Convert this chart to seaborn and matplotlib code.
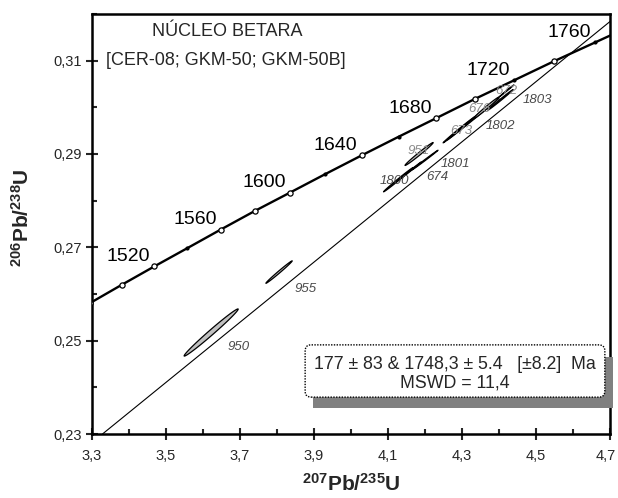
import numpy as np
import matplotlib
matplotlib.use("Agg")
import matplotlib.pyplot as plt
import matplotlib.transforms as mtrans
import seaborn as sns
from matplotlib.patches import FancyBboxPatch, Rectangle
from matplotlib.ticker import FuncFormatter, MultipleLocator

# Concordia ticks (20 Ma steps)
conc_age = [1480, 1500, 1520, 1540, 1560, 1580, 1600, 1620, 1640, 1660,
            1680, 1700, 1720, 1740, 1760, 1780]
conc_x = [3.2955, 3.3810, 3.4681, 3.5570, 3.6477, 3.7401, 3.8344, 3.9306,
          4.0287, 4.1287, 4.2307, 4.3348, 4.4409, 4.5491, 4.6595, 4.7721]
conc_y = [0.2581, 0.2620, 0.2659, 0.2698, 0.2738, 0.2778, 0.2817, 0.2857,
          0.2897, 0.2937, 0.2977, 0.3018, 0.3058, 0.3099, 0.3139, 0.3180]
labelled_ages = [1520, 1560, 1600, 1640, 1680, 1720, 1760]
filled_ages = [1540, 1620, 1660, 1720, 1760]

# Discordia: lower and upper intercepts (177 Ma and 1748.3 Ma)
disc_x = [0.1904, 4.5946]
disc_y = [0.0278, 0.3116]

# Zircon spots: 207Pb/235U, error, 206Pb/238U, error, rho
spot_name = ["950", "955", "1800", "1801", "674", "951", "673", "1802", "676", "672", "1803"]
spot_x = [3.622, 3.8055, 4.128, 4.160, 4.200, 4.184, 4.292, 4.330, 4.365, 4.404, 4.420]
spot_sx = [0.073, 0.0355, 0.040, 0.030, 0.035, 0.038, 0.043, 0.070, 0.035, 0.034, 0.020]
spot_y = [0.25175, 0.2647, 0.2845, 0.2864, 0.2887, 0.2900, 0.2952, 0.2975, 0.29985, 0.3016, 0.3035]
spot_sy = [0.00505, 0.0024, 0.0026, 0.0019, 0.0021, 0.00245, 0.0028, 0.0045, 0.00235, 0.0022, 0.0013]
spot_rho = [0.99, 0.993, 0.996, 0.998, 0.998, 0.99, 0.997, 0.999, 0.99, 0.996, 0.998]
grey_spots = ["950", "955", "951", "676"]

# label positions for the spot names
spot_lab_x = [3.695, 3.878, 4.118, 4.282, 4.232, 4.184, 4.297, 4.403, 4.346, 4.419, 4.504]
spot_lab_y = [0.2487, 0.2611, 0.2842, 0.2878, 0.2850, 0.2907, 0.2950, 0.2959, 0.2997, 0.3036, 0.3016]
light_labels = ["951", "673", "676", "672"]

sns.set_theme(style="ticks")
plt.rcParams["font.family"] = ["Liberation Sans", "DejaVu Sans"]
plt.rcParams["mathtext.fontset"] = "custom"
plt.rcParams["mathtext.rm"] = "Liberation Sans:bold"
plt.rcParams["mathtext.bf"] = "Liberation Sans:bold"
plt.rcParams["mathtext.default"] = "bf"

fig = plt.figure(figsize=(6.18, 4.98), dpi=100)
ax = fig.add_axes([0.1489, 0.1285, 0.8382, 0.8434])

# discordia
ax.axline((disc_x[0], disc_y[0]), (disc_x[1], disc_y[1]), color="black", lw=0.8, zorder=2)

# concordia
sns.lineplot(x=conc_x, y=conc_y, sort=False, color="black", lw=1.7, ax=ax, zorder=3)
open_x = [x for a, x in zip(conc_age, conc_x) if a not in filled_ages]
open_y = [y for a, y in zip(conc_age, conc_y) if a not in filled_ages]
full_x = [x for a, x in zip(conc_age, conc_x) if a in filled_ages]
full_y = [y for a, y in zip(conc_age, conc_y) if a in filled_ages]
sns.scatterplot(x=open_x, y=open_y, marker="o", s=14, facecolor="white",
                edgecolor="black", linewidth=0.9, ax=ax, zorder=4)
sns.scatterplot(x=full_x, y=full_y, marker="o", s=9, color="black",
                linewidth=0, ax=ax, zorder=4)
for a, x, y in zip(conc_age, conc_x, conc_y):
    if a in labelled_ages:
        ax.annotate(str(a), (x, y), xytext=(-3, 1), textcoords="offset points",
                    ha="right", va="bottom", fontsize=14, color="black")

# error ellipses
theta = np.linspace(0, 2 * np.pi, 120)
for name, x, sx, y, sy, r in zip(spot_name, spot_x, spot_sx, spot_y, spot_sy, spot_rho):
    cov = np.array([[sx ** 2, r * sx * sy], [r * sx * sy, sy ** 2]])
    L = np.linalg.cholesky(cov)
    pts = L @ np.vstack([np.cos(theta), np.sin(theta)])
    fc = "#c0c0c0" if name in grey_spots else "#1a1a1a"
    ax.fill(x + pts[0], y + pts[1], fc=fc, ec="black", lw=0.9, zorder=5)

for name, lx, ly in zip(spot_name, spot_lab_x, spot_lab_y):
    col = "#8a8a8a" if name in light_labels else "#4a4a4a"
    ax.text(lx, ly, name, ha="center", va="center", fontsize=9.5, style="italic",
            family=["Liberation Sans Narrow", "Liberation Sans"], color=col, zorder=6)

# title
ax.text(3.665, 0.3163, "NÚCLEO BETARA", ha="center", va="center", fontsize=13)
ax.text(3.662, 0.3100, "[CER-08; GKM-50; GKM-50B]", ha="center", va="center", fontsize=13)

# result box with shadow
asp = 370 / 4660
shadow = Rectangle((3.897, 0.23558), 0.811, 0.0110, fc="#808080", ec="none",
                   zorder=6, clip_on=False)
ax.add_patch(shadow)
box = FancyBboxPatch((3.876, 0.2379), 0.810, 0.0112,
                     boxstyle="round,pad=0,rounding_size=0.016", mutation_aspect=asp,
                     fc="white", ec="black", lw=1.0, ls=(0, (1, 1)), zorder=7)
ax.add_patch(box)
ax.text(4.281, 0.2449, "177 ± 83 & 1748,3 ± 5.4   [±8.2]  Ma", ha="center", va="center",
        fontsize=12.8, zorder=8)
ax.text(4.281, 0.2410, "MSWD = 11,4", ha="center", va="center", fontsize=12.8, zorder=8)

# axes
ax.set_xlim(3.3, 4.7)
ax.set_ylim(0.23, 0.32)
ax.xaxis.set_minor_locator(MultipleLocator(0.1))
ax.yaxis.set_minor_locator(MultipleLocator(0.01))
ax.set_xticks(np.arange(3.3, 4.71, 0.2))
ax.set_yticks(np.arange(0.23, 0.311, 0.02))
ax.xaxis.set_major_formatter(FuncFormatter(lambda v, _: f"{v:.1f}".replace(".", ",")))
ax.yaxis.set_major_formatter(FuncFormatter(lambda v, _: f"{v:.2f}".replace(".", ",")))
ax.tick_params(which="major", direction="inout", length=8, width=1.5, labelsize=10.5,
               top=False, right=False)
ax.tick_params(which="minor", direction="in", length=3.5, width=1.5, top=False, right=False)
ax.tick_params(axis="x", which="major", pad=7)
ax.tick_params(axis="y", which="major", pad=3)
for sp in ax.spines.values():
    sp.set_linewidth(1.8)
    sp.set_color("black")

# pull the last x tick label slightly inside the figure
last = ax.get_xticklabels()[-1]
last.set_transform(last.get_transform() + mtrans.ScaledTranslation(-4 / 100, 0, fig.dpi_scale_trans))

ax.set_xlabel("$^{207}$Pb/$^{235}$U", fontsize=15, fontweight="bold")
ax.xaxis.set_label_coords(0.5, -0.093)
fig.text(22 / 618, 1 - 218 / 498, "$^{206}$Pb/$^{238}$U", rotation=90, ha="center",
         va="center", fontsize=15, fontweight="bold")

fig.savefig("out.png", dpi=100)
